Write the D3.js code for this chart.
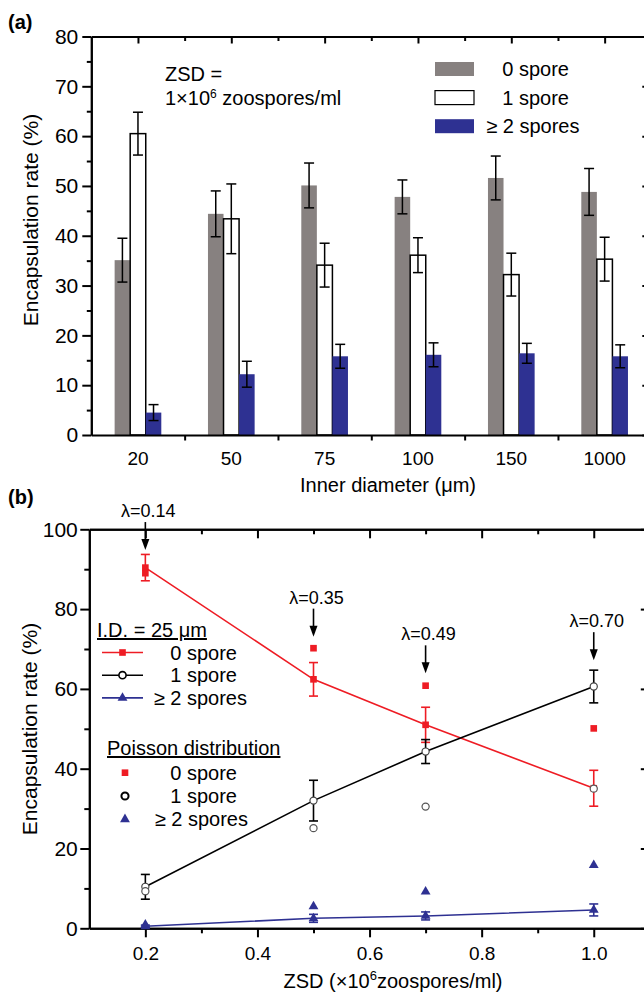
<!DOCTYPE html>
<html>
<head>
<meta charset="utf-8">
<script src="https://d3js.org/d3.v7.min.js"></script>
<style>
  body { margin: 0; background: #fff; }
  svg { display: block; }
  text { font-family: Arial, "Liberation Sans", sans-serif; fill: #000; }
</style>
</head>
<body>
<svg id="chart" width="644" height="992"></svg>
<script>

// panel (a) data: encapsulation rate vs inner diameter
var diameter_labels = ['20', '50', '75', '100', '150', '1000'];
var bar_zero     = [35.1, 44.4, 50.1, 47.8, 51.6, 48.8];
var bar_zero_err = [4.4, 4.6, 4.5, 3.4, 4.4, 4.7];
var bar_one      = [60.5, 43.4, 34.1, 36.1, 32.2, 35.3];
var bar_one_err  = [4.3, 7.0, 4.4, 3.5, 4.3, 4.4];
var bar_two      = [4.5, 12.2, 15.8, 16.1, 16.4, 15.8];
var bar_two_err  = [1.6, 2.6, 2.4, 2.4, 2.0, 2.3];

// panel (b) data: encapsulation rate vs ZSD (I.D. = 25 um)
var zsd = [0.2, 0.5, 0.7, 1.0];
var exp_zero     = [90.4, 62.4, 51.0, 35.1];
var exp_zero_err = [3.3, 4.2, 4.4, 4.5];
var exp_one      = [10.4, 32.0, 44.3, 60.6];
var exp_one_err  = [3.1, 5.1, 3.0, 4.1];
var exp_two      = [0.5, 2.5, 3.1, 4.6];
var exp_two_err  = [0.3, 1.0, 1.0, 1.5];

// poisson distribution predictions
var poisson_zero = [89.0, 70.2, 60.8, 50.1];
var poisson_one  = [9.3, 25.1, 30.5, 35.0];
var poisson_two  = [0.9, 5.5, 9.2, 15.8];

// lambda annotations (arrow tip in data units)
var lambda_labels = ['λ=0.14', 'λ=0.35', 'λ=0.49', 'λ=0.70'];
var lambda_tip    = [94.8, 73.1, 63.9, 67.2];

var gray = '#878180';
var blue = '#2e3192';
var red = '#ee1c24';

var svg = d3.select('#chart');

function style_axis(g, font_size){
  g.attr('font-family', null).attr('font-size', null);
  g.selectAll('path.domain').attr('stroke', '#000').attr('stroke-width', 2);
  g.selectAll('.tick line').attr('stroke', '#000').attr('stroke-width', 2);
  g.selectAll('.tick text').style('font-size', font_size + 'px');
}

// Panel (a)
///////////////////////////////////////////////////////////////

var xa = d3.scaleBand().domain(diameter_labels).range([91.3, 651.3]);
var xa_idx = d3.scaleLinear().domain([0, 6]).range([91.3, 651.3]);
var ya = d3.scaleLinear().domain([0, 80]).range([435, 36.5]);

var pa = svg.append('g');

// left axis, major + minor
pa.append('g').attr('transform', 'translate(91.3,0)')
  .call(d3.axisLeft(ya).tickValues(d3.range(0, 81, 10)).tickSize(9).tickSizeOuter(0).tickPadding(4))
  .call(style_axis, 21);
pa.append('g').attr('transform', 'translate(91.3,0)')
  .call(d3.axisLeft(ya).tickValues(d3.range(5, 80, 10)).tickSize(4.5).tickSizeOuter(0).tickFormat(''))
  .call(style_axis, 21);

// right axis (ticks inward)
pa.append('g').attr('transform', 'translate(651.3,0)')
  .call(d3.axisLeft(ya).tickValues(d3.range(0, 81, 10)).tickSize(9).tickSizeOuter(0).tickFormat(''))
  .call(style_axis, 21);
pa.append('g').attr('transform', 'translate(651.3,0)')
  .call(d3.axisLeft(ya).tickValues(d3.range(5, 80, 10)).tickSize(4.5).tickSizeOuter(0).tickFormat(''))
  .call(style_axis, 21);

// top axis (ticks inward)
pa.append('g').attr('transform', 'translate(0,36.5)')
  .call(d3.axisBottom(xa_idx).tickValues(d3.range(0.5, 6, 1)).tickSize(7).tickSizeOuter(0).tickFormat(''))
  .call(style_axis, 19);
pa.append('g').attr('transform', 'translate(0,36.5)')
  .call(d3.axisBottom(xa_idx).tickValues(d3.range(1, 6, 1)).tickSize(4.5).tickSizeOuter(0).tickFormat(''))
  .call(style_axis, 19);

// bars
var series_a = [
  {vals: bar_zero, errs: bar_zero_err, fill: gray, stroke: 'none'},
  {vals: bar_one,  errs: bar_one_err,  fill: '#fff', stroke: '#000'},
  {vals: bar_two,  errs: bar_two_err,  fill: blue, stroke: 'none'}
];
var sub = d3.scaleBand().domain([0, 1, 2]).range([0, xa.bandwidth() / 2]);

series_a.forEach(function(s, k){
  var bx = function(d, i){ return xa(diameter_labels[i]) + xa.bandwidth() / 4 + sub(k); };
  pa.append('g').selectAll('rect')
    .data(s.vals)
    .enter().append('rect')
    .attr('x', bx)
    .attr('y', function(d){ return ya(d); })
    .attr('width', sub.bandwidth())
    .attr('height', function(d){ return ya(0) - ya(d); })
    .attr('fill', s.fill)
    .attr('stroke', s.stroke)
    .attr('stroke-width', 1.5);

  var eg = pa.append('g').attr('stroke', '#000').attr('stroke-width', 1.5);
  s.vals.forEach(function(d, i){
    var cx = bx(d, i) + sub.bandwidth() / 2;
    var lo = ya(d - s.errs[i]), hi = ya(d + s.errs[i]);
    eg.append('line').attr('x1', cx).attr('x2', cx).attr('y1', lo).attr('y2', hi);
    eg.append('line').attr('x1', cx - 5).attr('x2', cx + 5).attr('y1', lo).attr('y2', lo);
    eg.append('line').attr('x1', cx - 5).attr('x2', cx + 5).attr('y1', hi).attr('y2', hi);
  });
});

// bottom axis: labels at categories, ticks between categories
pa.append('g').attr('transform', 'translate(0,435)')
  .call(d3.axisBottom(xa).tickSize(0).tickSizeOuter(0).tickPadding(16.5))
  .call(style_axis, 19);
pa.append('g').attr('transform', 'translate(0,435)')
  .call(d3.axisBottom(xa_idx).tickValues(d3.range(1, 6, 1)).tickSize(5.5).tickSizeOuter(0).tickFormat(''))
  .call(function(g){ style_axis(g, 19); g.select('path.domain').remove(); });

// axis titles
pa.append('text')
  .attr('transform', 'translate(38,220) rotate(-90)')
  .attr('text-anchor', 'middle')
  .style('font-size', '21px')
  .text('Encapsulation rate (%)');

pa.append('text')
  .attr('x', 388).attr('y', 492)
  .attr('text-anchor', 'middle')
  .style('font-size', '20px')
  .text('Inner diameter (μm)');

pa.append('text')
  .attr('x', 8).attr('y', 29)
  .style('font-size', '20px').style('font-weight', 'bold')
  .text('(a)');

// ZSD note
pa.append('text').attr('x', 165).attr('y', 81).style('font-size', '20px').text('ZSD =');
var zsd_note = pa.append('text').attr('x', 165).attr('y', 104.5).style('font-size', '20px');
zsd_note.append('tspan').text('1×10');
zsd_note.append('tspan').attr('dy', -7).style('font-size', '12px').text('6');
zsd_note.append('tspan').attr('dy', 7).text(' zoospores/ml');

// legend (a)
var legend_a = [
  {label: '0 spore', fill: gray, stroke: 'none', end: 569},
  {label: '1 spore', fill: '#fff', stroke: '#000', end: 569},
  {label: '≥ 2 spores', fill: blue, stroke: 'none', end: 579.5}
];
legend_a.forEach(function(d, i){
  var cy = 69 + i * 28.6;
  pa.append('rect')
    .attr('x', 435).attr('y', cy - 7).attr('width', 39).attr('height', 14)
    .attr('fill', d.fill).attr('stroke', d.stroke).attr('stroke-width', 1.2);
  pa.append('text')
    .attr('x', d.end).attr('y', cy + 7)
    .attr('text-anchor', 'end')
    .style('font-size', '20px')
    .text(d.label);
});

// Panel (b)
///////////////////////////////////////////////////////////////

var xb = d3.scaleLinear().domain([0.1, 1.1]).range([89.3, 649.8]);
var yb = d3.scaleLinear().domain([0, 100]).range([928.3, 529.3]);

var pb = svg.append('g');

pb.append('g').attr('transform', 'translate(89.3,0)')
  .call(d3.axisLeft(yb).tickValues(d3.range(0, 101, 20)).tickSize(9).tickSizeOuter(0).tickPadding(2.5))
  .call(style_axis, 21);
pb.append('g').attr('transform', 'translate(89.3,0)')
  .call(d3.axisLeft(yb).tickValues(d3.range(10, 100, 20)).tickSize(5).tickSizeOuter(0).tickFormat(''))
  .call(style_axis, 21);

pb.append('g').attr('transform', 'translate(649.8,0)')
  .call(d3.axisLeft(yb).tickValues(d3.range(0, 101, 20)).tickSize(9).tickSizeOuter(0).tickFormat(''))
  .call(style_axis, 21);
pb.append('g').attr('transform', 'translate(649.8,0)')
  .call(d3.axisLeft(yb).tickValues(d3.range(10, 100, 20)).tickSize(5).tickSizeOuter(0).tickFormat(''))
  .call(style_axis, 21);

pb.append('g').attr('transform', 'translate(0,529.3)')
  .call(d3.axisBottom(xb).tickValues([0.2, 0.4, 0.6, 0.8, 1.0]).tickSize(9).tickSizeOuter(0).tickFormat(''))
  .call(style_axis, 19);
pb.append('g').attr('transform', 'translate(0,529.3)')
  .call(d3.axisBottom(xb).tickValues([0.3, 0.5, 0.7, 0.9]).tickSize(5).tickSizeOuter(0).tickFormat(''))
  .call(style_axis, 19);

pb.append('g').attr('transform', 'translate(0,928.3)')
  .call(d3.axisBottom(xb).tickValues([0.2, 0.4, 0.6, 0.8, 1.0]).tickSize(9).tickSizeOuter(0).tickPadding(9).tickFormat(d3.format('.1f')))
  .call(style_axis, 19);
pb.append('g').attr('transform', 'translate(0,928.3)')
  .call(d3.axisBottom(xb).tickValues([0.3, 0.5, 0.7, 0.9]).tickSize(5).tickSizeOuter(0).tickFormat(''))
  .call(style_axis, 19);

var sym_square = d3.symbol().type(d3.symbolSquare).size(44);
var sym_circle = d3.symbol().type(d3.symbolCircle).size(40);
var sym_triangle = d3.symbol().type(d3.symbolTriangle).size(42);

var series_b = [
  {vals: exp_zero, errs: exp_zero_err, color: red, sym: sym_square, fill: red, stroke: 'none'},
  {vals: exp_one,  errs: exp_one_err,  color: '#000', sym: sym_circle, fill: '#fff', stroke: '#444'},
  {vals: exp_two,  errs: exp_two_err,  color: blue, sym: sym_triangle, fill: blue, stroke: 'none'}
];

var line_b = d3.line()
  .x(function(d, i){ return xb(zsd[i]); })
  .y(function(d){ return yb(d); });

series_b.forEach(function(s){
  pb.append('path')
    .attr('d', line_b(s.vals))
    .attr('fill', 'none')
    .attr('stroke', s.color)
    .attr('stroke-width', 1.6);
});

series_b.forEach(function(s){
  var eg = pb.append('g').attr('stroke', s.color).attr('stroke-width', 1.6);
  s.vals.forEach(function(d, i){
    var cx = xb(zsd[i]);
    var lo = yb(d - s.errs[i]), hi = yb(d + s.errs[i]);
    eg.append('line').attr('x1', cx).attr('x2', cx).attr('y1', lo).attr('y2', hi);
    eg.append('line').attr('x1', cx - 4.5).attr('x2', cx + 4.5).attr('y1', lo).attr('y2', lo);
    eg.append('line').attr('x1', cx - 4.5).attr('x2', cx + 4.5).attr('y1', hi).attr('y2', hi);
  });
  pb.append('g').selectAll('path')
    .data(s.vals)
    .enter().append('path')
    .attr('transform', function(d, i){ return 'translate(' + xb(zsd[i]) + ',' + yb(d) + ')'; })
    .attr('d', s.sym)
    .attr('fill', s.fill)
    .attr('stroke', s.stroke)
    .attr('stroke-width', 1.2);
});

var series_p = [
  {vals: poisson_zero, sym: sym_square, fill: red, stroke: 'none'},
  {vals: poisson_one,  sym: sym_circle, fill: '#fff', stroke: '#555'},
  {vals: poisson_two,  sym: sym_triangle, fill: blue, stroke: 'none'}
];
series_p.forEach(function(s){
  pb.append('g').selectAll('path')
    .data(s.vals)
    .enter().append('path')
    .attr('transform', function(d, i){ return 'translate(' + xb(zsd[i]) + ',' + yb(d) + ')'; })
    .attr('d', s.sym)
    .attr('fill', s.fill)
    .attr('stroke', s.stroke)
    .attr('stroke-width', 1.2);
});

// lambda arrows
lambda_labels.forEach(function(lab, i){
  var ax = xb(zsd[i]);
  var tip = yb(lambda_tip[i]);
  pb.append('line')
    .attr('x1', ax).attr('x2', ax).attr('y1', tip - 28).attr('y2', tip - 8)
    .attr('stroke', '#000').attr('stroke-width', 1.6);
  pb.append('path')
    .attr('d', 'M' + (ax - 4) + ',' + (tip - 11) + 'L' + (ax + 4) + ',' + (tip - 11) + 'L' + ax + ',' + tip + 'Z')
    .attr('fill', '#000');
  pb.append('text')
    .attr('x', ax + 3).attr('y', tip - 33)
    .attr('text-anchor', 'middle')
    .style('font-size', '18px')
    .text(lab);
});

// legend (b)
pb.append('text')
  .attr('x', 97).attr('y', 637)
  .style('font-size', '20px').style('text-decoration', 'underline')
  .text('I.D. = 25 μm');

var legend_exp = [
  {label: '0 spore', s: series_b[0], end: 237},
  {label: '1 spore', s: series_b[1], end: 237},
  {label: '≥ 2 spores', s: series_b[2], end: 247}
];
legend_exp.forEach(function(d, i){
  var cy = 652.5 + i * 22.7;
  pb.append('line')
    .attr('x1', 102).attr('x2', 143).attr('y1', cy).attr('y2', cy)
    .attr('stroke', d.s.color).attr('stroke-width', 1.6);
  pb.append('path')
    .attr('transform', 'translate(122.5,' + cy + ')')
    .attr('d', d.s.sym)
    .attr('fill', d.s.fill)
    .attr('stroke', d.s.stroke === 'none' ? 'none' : '#000')
    .attr('stroke-width', 1.6);
  pb.append('text')
    .attr('x', d.end).attr('y', cy + 7)
    .attr('text-anchor', 'end')
    .style('font-size', '20px')
    .text(d.label);
});

pb.append('text')
  .attr('x', 107).attr('y', 755)
  .style('font-size', '20px').style('text-decoration', 'underline')
  .text('Poisson distribution');

var legend_poi = [
  {label: '0 spore', s: series_p[0], end: 237},
  {label: '1 spore', s: series_p[1], end: 237},
  {label: '≥ 2 spores', s: series_p[2], end: 248}
];
legend_poi.forEach(function(d, i){
  var cy = 772.7 + i * 23.3;
  pb.append('path')
    .attr('transform', 'translate(125,' + cy + ')')
    .attr('d', d.s.sym)
    .attr('fill', d.s.fill)
    .attr('stroke', d.s.stroke === 'none' ? 'none' : '#000')
    .attr('stroke-width', 2);
  pb.append('text')
    .attr('x', d.end).attr('y', cy + 7)
    .attr('text-anchor', 'end')
    .style('font-size', '20px')
    .text(d.label);
});

// axis titles (b)
pb.append('text')
  .attr('transform', 'translate(37,729) rotate(-90)')
  .attr('text-anchor', 'middle')
  .style('font-size', '21px')
  .text('Encapsulation rate (%)');

var xt = pb.append('text')
  .attr('x', 393).attr('y', 988)
  .attr('text-anchor', 'middle')
  .style('font-size', '20px');
xt.append('tspan').text('ZSD (×10');
xt.append('tspan').attr('dy', -8).style('font-size', '13px').text('6');
xt.append('tspan').attr('dy', 8).text('zoospores/ml)');

pb.append('text')
  .attr('x', 8).attr('y', 504)
  .style('font-size', '20px').style('font-weight', 'bold')
  .text('(b)');

</script>
</body>
</html>
